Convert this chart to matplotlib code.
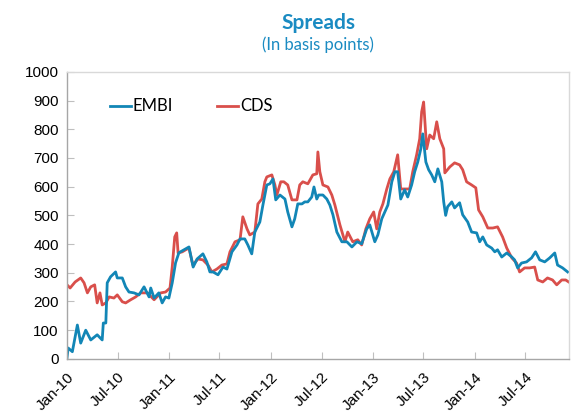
import numpy as np
import pandas as pd
import matplotlib
matplotlib.use("Agg")
import matplotlib.pyplot as plt
import matplotlib.dates as mdates

# EMBI spread (basis points)
embi_dates = ["2010-01-01", "2010-01-05", "2010-01-20", "2010-02-07", "2010-02-19", "2010-03-09",
              "2010-03-27", "2010-04-19", "2010-05-07", "2010-05-11", "2010-05-20", "2010-05-25",
              "2010-06-06", "2010-06-24", "2010-06-30", "2010-07-18", "2010-07-30", "2010-08-11",
              "2010-08-29", "2010-09-16", "2010-10-04", "2010-10-22", "2010-10-28", "2010-11-09",
              "2010-11-26", "2010-12-08", "2010-12-20", "2011-01-01", "2011-01-13", "2011-01-25",
              "2011-02-06", "2011-02-24", "2011-03-14", "2011-03-29", "2011-04-12", "2011-05-03",
              "2011-05-17", "2011-05-28", "2011-06-08", "2011-06-26", "2011-07-14", "2011-07-28",
              "2011-08-15", "2011-09-02", "2011-09-13", "2011-09-30", "2011-10-11", "2011-10-25",
              "2011-11-05", "2011-11-23", "2011-12-04", "2011-12-18", "2011-12-29", "2012-01-09",
              "2012-01-19", "2012-02-03", "2012-02-21", "2012-03-02", "2012-03-17", "2012-03-27",
              "2012-04-07", "2012-04-22", "2012-05-02", "2012-05-13", "2012-05-27", "2012-06-04",
              "2012-06-14", "2012-06-21", "2012-07-06", "2012-07-20", "2012-07-31", "2012-08-11",
              "2012-08-25", "2012-09-12", "2012-09-30", "2012-10-18", "2012-11-05", "2012-11-22",
              "2012-12-10", "2012-12-21", "2013-01-08", "2013-01-19", "2013-02-02", "2013-02-13",
              "2013-02-24", "2013-03-10", "2013-03-21", "2013-03-31", "2013-04-11", "2013-04-25",
              "2013-05-06", "2013-05-20", "2013-05-31", "2013-06-11", "2013-06-22", "2013-06-29",
              "2013-07-10", "2013-07-20", "2013-07-31", "2013-08-11", "2013-08-22", "2013-09-05",
              "2013-09-12", "2013-09-19", "2013-09-26", "2013-10-11", "2013-10-21", "2013-11-08",
              "2013-11-19", "2013-12-07", "2013-12-21", "2014-01-08", "2014-01-19", "2014-01-30",
              "2014-02-13", "2014-03-03", "2014-03-14", "2014-03-24", "2014-04-08", "2014-04-26",
              "2014-05-14", "2014-05-24", "2014-06-04", "2014-06-18", "2014-07-06", "2014-07-24",
              "2014-08-07", "2014-08-22", "2014-09-09", "2014-09-27", "2014-10-15", "2014-10-25",
              "2014-11-12", "2014-11-30"]
embi = [5, 38, 25, 118, 55, 100,
        66, 84, 66, 125, 125, 265,
        286, 303, 282, 282, 251, 233,
        230, 223, 251, 216, 247, 212,
        230, 195, 216, 212, 265, 335,
        370, 380, 390, 320, 348, 366,
        338, 303, 303, 293, 320, 313,
        373, 397, 418, 418, 397, 366,
        442, 477, 536, 606, 610, 627,
        554, 571, 557, 512, 460, 488,
        540, 540, 547, 547, 564, 599,
        557, 571, 571, 557, 536, 502,
        442, 408, 408, 390, 408, 401,
        453, 467, 408, 432, 488, 512,
        536, 617, 652, 652, 557, 589,
        564, 606, 652, 686, 732, 784,
        686, 659, 641, 617, 662, 617,
        547, 500, 530, 547, 526, 544,
        502, 477, 442, 439, 408, 425,
        397, 386, 373, 380, 355, 369,
        355, 345, 317, 334, 338, 352,
        373, 345, 338, 352, 369, 327,
        317, 303]

# CDS spread (basis points)
cds_dates = ["2010-01-01", "2010-01-12", "2010-01-30", "2010-02-19", "2010-03-03", "2010-03-15",
             "2010-03-27", "2010-04-10", "2010-04-19", "2010-04-29", "2010-05-07", "2010-05-20",
             "2010-06-01", "2010-06-18", "2010-06-30", "2010-07-18", "2010-07-30", "2010-08-17",
             "2010-09-04", "2010-09-22", "2010-10-16", "2010-11-09", "2010-12-03", "2010-12-20",
             "2011-01-05", "2011-01-13", "2011-01-22", "2011-01-29", "2011-02-03", "2011-02-18",
             "2011-03-02", "2011-03-14", "2011-03-28", "2011-04-15", "2011-05-03", "2011-05-21",
             "2011-06-04", "2011-06-22", "2011-07-10", "2011-07-28", "2011-08-08", "2011-08-26",
             "2011-09-13", "2011-09-23", "2011-10-08", "2011-10-18", "2011-11-05", "2011-11-16",
             "2011-11-30", "2011-12-11", "2011-12-18", "2012-01-05", "2012-01-16", "2012-01-23",
             "2012-02-06", "2012-02-17", "2012-03-02", "2012-03-17", "2012-04-04", "2012-04-14",
             "2012-04-25", "2012-05-13", "2012-05-31", "2012-06-14", "2012-06-18", "2012-06-25",
             "2012-07-06", "2012-07-24", "2012-08-07", "2012-08-18", "2012-09-05", "2012-09-23",
             "2012-10-03", "2012-10-21", "2012-11-08", "2012-11-22", "2012-12-07", "2012-12-21",
             "2013-01-04", "2013-01-15", "2013-01-26", "2013-02-06", "2013-02-20", "2013-03-03",
             "2013-03-17", "2013-03-31", "2013-04-11", "2013-04-25", "2013-05-13", "2013-05-24",
             "2013-06-07", "2013-06-18", "2013-06-25", "2013-07-02", "2013-07-13", "2013-07-24",
             "2013-08-07", "2013-08-18", "2013-08-29", "2013-09-12", "2013-09-16", "2013-10-04",
             "2013-10-21", "2013-11-08", "2013-11-19", "2013-12-03", "2013-12-21", "2014-01-05",
             "2014-01-15", "2014-01-30", "2014-02-17", "2014-03-07", "2014-03-24", "2014-04-11",
             "2014-04-26", "2014-05-14", "2014-05-31", "2014-06-11", "2014-06-29", "2014-07-17",
             "2014-08-04", "2014-08-15", "2014-09-02", "2014-09-19", "2014-10-07", "2014-10-22",
             "2014-11-09", "2014-11-23", "2014-12-04"]
cds = [258, 247, 268, 282, 265, 230,
       251, 258, 195, 230, 188, 195,
       216, 212, 223, 199, 195, 206,
       216, 230, 230, 206, 230, 233,
       247, 320, 425, 439, 369, 373,
       380, 386, 327, 348, 345, 327,
       303, 313, 327, 331, 373, 408,
       415, 495, 453, 432, 442, 540,
       557, 617, 634, 641, 606, 571,
       617, 617, 606, 554, 554, 606,
       617, 610, 641, 645, 721, 652,
       606, 599, 571, 536, 467, 408,
       442, 408, 415, 397, 453, 488,
       512, 453, 512, 540, 592, 627,
       652, 711, 592, 592, 592, 652,
       711, 767, 861, 895, 732, 780,
       767, 826, 767, 732, 648, 669,
       683, 676, 659, 617, 606, 596,
       519, 495, 456, 456, 460, 425,
       386, 352, 334, 303, 317, 317,
       320, 275, 268, 282, 275, 258,
       275, 275, 268]

y_ticks = list(range(0, 1001, 100))
x_ticks = ["2010-01-01", "2010-07-01", "2011-01-01", "2011-07-01", "2012-01-01",
           "2012-07-01", "2013-01-01", "2013-07-01", "2014-01-01", "2014-07-01"]

blue = "#1286B6"
red = "#D94F4B"
title_col = "#1A8BC2"

fig = plt.figure(figsize=(5.73, 4.13), dpi=100)
ax = fig.add_axes([0.117, 0.131, 0.876, 0.695])

ax.plot(pd.to_datetime(cds_dates), cds, color=red, lw=2.0, label="CDS", solid_joinstyle="round")
ax.plot(pd.to_datetime(embi_dates), embi, color=blue, lw=2.0, label="EMBI", solid_joinstyle="round")

ax.set_xlim(pd.Timestamp("2010-01-01"), pd.Timestamp("2014-12-05"))
ax.set_ylim(0, 1000)
ax.set_yticks(y_ticks)
ax.set_xticks(pd.to_datetime(x_ticks))
ax.xaxis.set_major_formatter(mdates.DateFormatter("%b-%y"))

for lab in ax.get_xticklabels():
    lab.set_rotation(45)
    lab.set_ha("right")
    lab.set_rotation_mode("anchor")

ax.tick_params(direction="in", length=5, color="#BFBFBF", labelsize=11, labelcolor="black")
ax.tick_params(axis="x", pad=8)
ax.tick_params(axis="y", pad=6)
for lab in ax.get_xticklabels() + ax.get_yticklabels():
    lab.set_family("Liberation Sans")

for s in ["top", "right"]:
    ax.spines[s].set_color("#D9D9D9")
for s in ["left", "bottom"]:
    ax.spines[s].set_color("#A6A6A6")
for s in ax.spines.values():
    s.set_linewidth(1.0)

h, l = ax.get_legend_handles_labels()
leg = ax.legend(h[::-1], l[::-1], loc="upper left", bbox_to_anchor=(0.055, 0.96), ncol=2,
                frameon=False, handlelength=1.3, handletextpad=0.1, columnspacing=2.6,
                prop={"family": "Lato", "size": 12})

fig.text(0.555, 0.945, "Spreads", ha="center", va="center", color=title_col,
         fontsize=15, fontweight="bold", family="Lato")
fig.text(0.555, 0.892, "(In basis points)", ha="center", va="center", color=title_col,
         fontsize=12, family="Lato")

fig.savefig("out.png", dpi=100)
